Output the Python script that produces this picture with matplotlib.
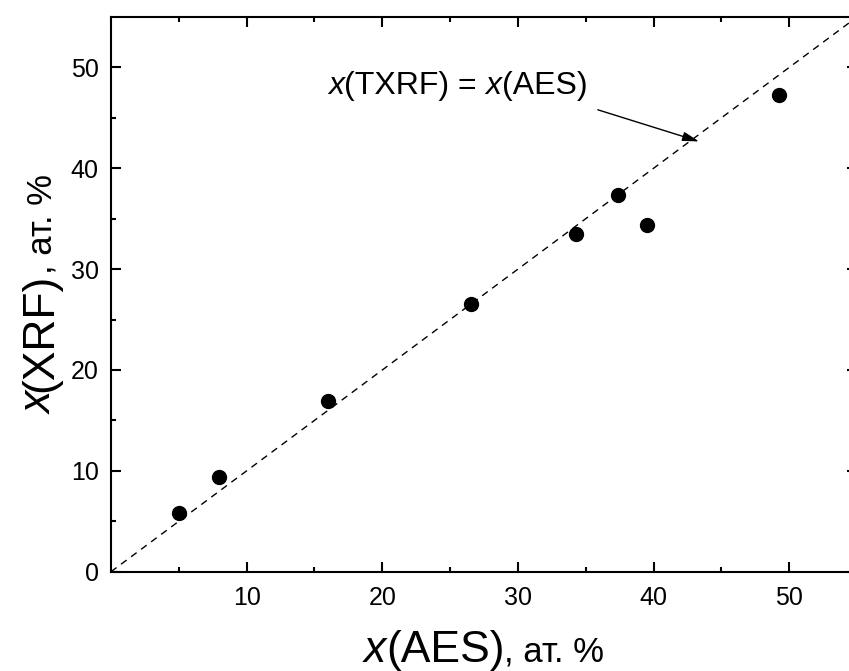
import matplotlib
matplotlib.use("Agg")
import matplotlib.pyplot as plt
from matplotlib.transforms import IdentityTransform
import numpy as np

plt.rcParams['font.family'] = ['Liberation Sans', 'DejaVu Sans']

# data
x_aes = [4.99, 7.96, 15.98, 26.55, 34.27, 37.41, 39.53, 49.24]
x_xrf = [5.79, 9.42, 16.96, 26.56, 33.53, 37.34, 34.33, 47.22]
ident = [0, 55]
xticks = [10, 20, 30, 40, 50]
yticks = [0, 10, 20, 30, 40, 50]

W, H = 849, 671
fig = plt.figure(figsize=(W / 100, H / 100), dpi=100)
ax = fig.add_axes([111 / W, 1 - 571.7 / H, (857 - 111) / W, (571.7 - 17) / H])

ax.plot(ident, ident, color='black', lw=1.0, dashes=(5, 4))
ax.plot(x_aes, x_xrf, 'o', color='black', ms=10, mec='black')

ax.set_xlim(0, 55)
ax.set_ylim(0, 55)
ax.set_xticks(xticks)
ax.set_yticks(yticks)
ax.set_xticks(np.arange(5, 55, 10), minor=True)
ax.set_yticks(np.arange(5, 55, 10), minor=True)
ax.tick_params(which='both', direction='in', top=True, right=True, width=1.5,
               labelsize=18)
ax.tick_params(axis='x', which='major', pad=10)
ax.tick_params(axis='y', which='major', pad=9)
ax.tick_params(which='major', length=7)
ax.tick_params(which='minor', length=3.5)
for s in ax.spines.values():
    s.set_linewidth(1.5)

# arrow
ax.annotate('', xy=(43.36, 42.66), xytext=(35.89, 45.8),
            arrowprops=dict(arrowstyle='-|>,head_length=1.0,head_width=0.28',
                            color='black', lw=1.0, shrinkA=0, shrinkB=0))

fig.canvas.draw()
renderer = fig.canvas.get_renderer()


def make_pieces(pieces):
    objs, widths = [], []
    for s, style, size in pieces:
        t = fig.text(0, 0, s, fontsize=size, style=style, transform=IdentityTransform(),
                     ha='left', va='baseline')
        widths.append(t.get_window_extent(renderer).width)
        objs.append(t)
    return objs, widths


# annotation text
ann = [('x', 'italic', 23), ('(TXRF) = ', 'normal', 23), ('x', 'italic', 23), ('(AES)', 'normal', 23)]
x0, y0 = ax.transData.transform((16.0, 47.4))
objs, widths = make_pieces(ann)
pos = x0
for t, w in zip(objs, widths):
    t.set_position((pos, y0))
    pos += w

big, small = 32, 25
# x label
xl = [('x', 'italic', big), ('(AES)', 'normal', big), (', ат. %', 'normal', small)]
objs, widths = make_pieces(xl)
pos = 484 - sum(widths) / 2
for t, w in zip(objs, widths):
    t.set_position((pos, H - 662))
    pos += w

# y label
yl = [('x', 'italic', big), ('(XRF)', 'normal', big), (', ат. %', 'normal', small)]
objs, widths = make_pieces(yl)
pos = (H - 294) - sum(widths) / 2
for t, w in zip(objs, widths):
    t.set_rotation(90)
    t.set_rotation_mode('anchor')
    t.set_position((52, pos))
    pos += w

fig.savefig('out.png', dpi=100)
